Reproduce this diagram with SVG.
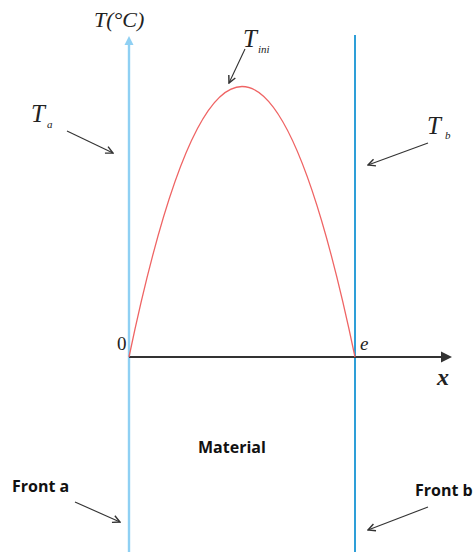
<svg xmlns="http://www.w3.org/2000/svg" width="475" height="552" viewBox="0 0 475 552">
<style>
.serif{font-family:"Liberation Serif","DejaVu Serif",serif;font-style:italic;fill:#222}
.up{font-family:"Liberation Serif","DejaVu Serif",serif;font-style:normal;fill:#222}
.lbl{font-family:"Open Sans","Noto Sans","Liberation Sans",sans-serif;font-weight:bold;font-size:16px;fill:#111}
.ptr{stroke:#333;stroke-width:1.1;fill:none;marker-end:url(#v)}
</style>
<defs>
<marker id="v" viewBox="0 0 10 10" refX="9" refY="5" markerWidth="9" markerHeight="9" markerUnits="userSpaceOnUse" orient="auto">
<path d="M1,1 L9,5 L1,9" fill="none" stroke="#333" stroke-width="1.6"/>
</marker>
</defs>
<rect width="475" height="552" fill="#fff"/>
<g id="front-a-line">
<line x1="129" y1="44" x2="129" y2="552" stroke="#8fd0f3" stroke-width="2.4"/>
<path d="M129,36 L133.5,45 L124.5,45 Z" fill="#8fd0f3"/>
</g>
<g id="front-b-line">
<line x1="355" y1="35" x2="355" y2="552" stroke="#2e9fd8" stroke-width="2"/>
</g>
<g id="x-axis">
<line x1="129" y1="357" x2="443" y2="357" stroke="#333" stroke-width="2"/>
<path d="M452,357 L441,351.5 L441,362.5 Z" fill="#333"/>
</g>
<g id="curve">
<path d="M129,357 Q242,-184 355,357" fill="none" stroke="#ef6464" stroke-width="1.3"/>
</g>
<g id="labels">
<text class="serif" x="94" y="27" font-size="22">T(°C)</text>
<text class="up" x="117" y="350" font-size="19">0</text>
<text class="serif" x="360" y="350" font-size="19">e</text>
<text class="serif" x="437" y="385" font-size="24" font-weight="bold">x</text>
<text class="serif" x="243" y="47" font-size="25">T</text>
<text class="serif" x="258" y="53" font-size="11">ini</text>
<text class="serif" x="31" y="122" font-size="25">T</text>
<text class="serif" x="47" y="128" font-size="11">a</text>
<text class="serif" x="427" y="134" font-size="25">T</text>
<text class="serif" x="445" y="139" font-size="11">b</text>
<text class="lbl" x="12" y="492">Front a</text>
<text class="lbl" x="415" y="496">Front b</text>
<text class="lbl" x="198" y="453">Material</text>
</g>
<g id="connectors">
<line class="ptr" x1="245" y1="49" x2="229" y2="83"/>
<line class="ptr" x1="67" y1="131" x2="113" y2="153"/>
<line class="ptr" x1="428" y1="143" x2="368" y2="165"/>
<line class="ptr" x1="75" y1="502" x2="120" y2="522"/>
<line class="ptr" x1="428" y1="507" x2="368" y2="530"/>
</g>
</svg>
